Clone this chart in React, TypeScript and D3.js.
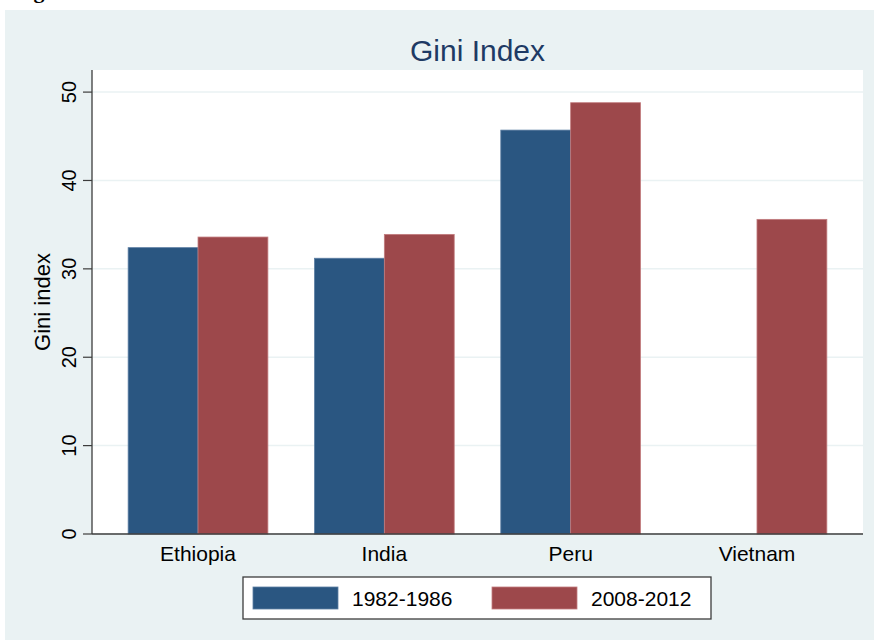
import React from "react";
import * as d3 from "d3";

const categories = ["Ethiopia", "India", "Peru", "Vietnam"];
const seriesNames = ["1982-1986", "2008-2012"];
const values1982: (number | null)[] = [32.4, 31.2, 45.7, null];
const values2008: (number | null)[] = [33.6, 33.9, 48.8, 35.6];
const yTicks = [0, 10, 20, 30, 40, 50];
const colors = ["#2a5681", "#9d484b"];
const strokes = ["#5d7fa3", "#c27c7e"];

const W = 874;
const H = 640;
const plot = { left: 92, right: 863, top: 70, bottom: 534 };
const font = "'Liberation Sans', Arial, Helvetica, sans-serif";

export default function App() {
  const x0 = d3
    .scaleBand<string>()
    .domain(categories)
    .range([plot.left, plot.right])
    .paddingInner(0.25)
    .paddingOuter(0.194);
  const x1 = d3.scaleBand<string>().domain(seriesNames).range([0, x0.bandwidth()]).padding(0);
  const y = d3.scaleLinear().domain([0, 52.5]).range([plot.bottom, plot.top]);
  const series = [values1982, values2008];

  return (
    <div style={{ position: "absolute", left: 0, top: 0 }}>
      <svg width={W} height={H} style={{ display: "block" }}>
        <rect x={0} y={0} width={W} height={H} fill="#ffffff" />
        <text
          x={14}
          y={-2}
          fontFamily="'Liberation Serif', 'Times New Roman', serif"
          fontWeight="bold"
          fontSize={22}
          fill="#000"
        >
          Figure
        </text>
        <rect x={5} y={10} width={W - 5} height={H - 10} fill="#eaf2f3" />
        <rect
          x={plot.left}
          y={plot.top}
          width={plot.right - plot.left}
          height={plot.bottom - plot.top}
          fill="#ffffff"
        />
        {yTicks.map((t) => (
          <line
            key={"g" + t}
            x1={plot.left}
            x2={plot.right}
            y1={y(t)}
            y2={y(t)}
            stroke="#eaf2f3"
            strokeWidth={1.5}
          />
        ))}
        {categories.map((c, i) =>
          series.map((s, j) => {
            const v = s[i];
            if (v == null) return null;
            const bx = (x0(c) ?? 0) + (x1(seriesNames[j]) ?? 0);
            return (
              <rect
                key={c + j}
                x={bx}
                y={y(v)}
                width={x1.bandwidth()}
                height={y(0) - y(v)}
                fill={colors[j]}
                stroke={strokes[j]}
                strokeWidth={0.8}
              />
            );
          })
        )}
        <line x1={plot.left} x2={plot.left} y1={plot.top} y2={plot.bottom} stroke="#3c3c3c" strokeWidth={1.3} />
        <line x1={plot.left} x2={plot.right} y1={plot.bottom} y2={plot.bottom} stroke="#3c3c3c" strokeWidth={1.3} />
        {yTicks.map((t) => (
          <g key={"t" + t}>
            <line x1={83} x2={plot.left} y1={y(t)} y2={y(t)} stroke="#3c3c3c" strokeWidth={1.2} />
            <text
              transform={`translate(76,${y(t)}) rotate(-90)`}
              textAnchor="middle"
              fontFamily={font}
              fontSize={20}
              fill="#000"
            >
              {t}
            </text>
          </g>
        ))}
        <text
          transform={`translate(50,${(plot.top + plot.bottom) / 2}) rotate(-90)`}
          textAnchor="middle"
          fontFamily={font}
          fontSize={22}
          fill="#000"
        >
          Gini index
        </text>
        {categories.map((c) => (
          <text
            key={"c" + c}
            x={(x0(c) ?? 0) + x0.bandwidth() / 2}
            y={561}
            textAnchor="middle"
            fontFamily={font}
            fontSize={21}
            fill="#000"
          >
            {c}
          </text>
        ))}
        <text
          x={(plot.left + plot.right) / 2}
          y={61}
          textAnchor="middle"
          fontFamily={font}
          fontSize={30}
          fill="#1e3a64"
        >
          Gini Index
        </text>
        <rect x={243} y={577} width={468} height={42} fill="#ffffff" stroke="#3c3c3c" strokeWidth={1.3} />
        {seriesNames.map((s, j) => {
          const lx = j === 0 ? 253 : 492;
          return (
            <g key={"l" + s}>
              <rect x={lx} y={587} width={85} height={22} fill={colors[j]} stroke={strokes[j]} strokeWidth={0.8} />
              <text x={lx + 99} y={606} fontFamily={font} fontSize={21} fill="#000">
                {s}
              </text>
            </g>
          );
        })}
      </svg>
    </div>
  );
}
